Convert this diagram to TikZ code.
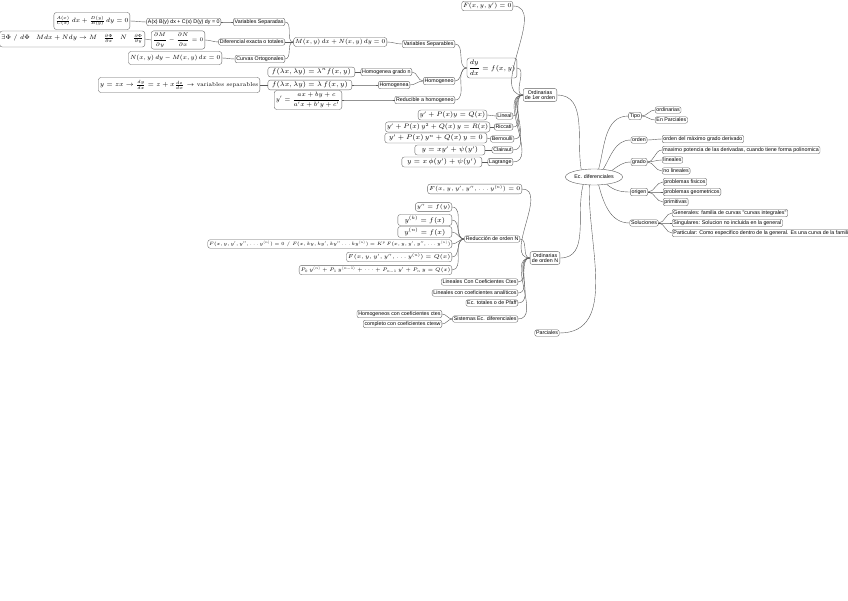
\RequirePackage{fix-cm}
\documentclass[tikz,border=0pt]{standalone}
\usepackage{fontspec}
\usepackage{amsmath}
\usetikzlibrary{shapes.geometric}
\newfontfamily\labfont{Liberation Sans}
\newcommand{\fsz}[1]{\fontsize{#1}{#1}\selectfont}
\tikzset{
  lab/.style={draw=gray!75!black, rounded corners=2pt, fill=white, inner sep=1.3pt, line width=0.35pt,
              font=\labfont\fsz{5.3}, text=black},
  fm/.style={draw=gray!75!black, rounded corners=2.5pt, fill=white, inner sep=1.5pt, line width=0.35pt,
             font=\fsz{6.7}, text=black},
  conn/.style={draw=gray!70!black, line width=0.4pt},
}
\newcommand{\lk}[2]{\draw[conn] (#1.east) to[out=0,in=180] (#2.west);}
\begin{document}
\begin{tikzpicture}[x=1pt,y=-1pt]
\useasboundingbox (0,0) rectangle (848,600);
% root
\node[draw=gray!75!black, ellipse, fill=white, inner sep=0.5pt, minimum width=46pt, minimum height=16pt,
      font=\labfont\fsz{5.3}] (root) at (594,177) {Ec. diferenciales};
% right side
\node[lab] (tipo) at (635,116) {Tipo};
\node[lab, anchor=west] (ordin) at (655,110) {ordinarias};
\node[lab, anchor=west] (enpar) at (655,120) {En Parciales};
\node[lab] (orden) at (639,140) {orden};
\node[lab, anchor=west] (odmgd) at (662,139) {orden del máximo grado derivado};
\node[lab] (grado) at (639,162) {grado};
\node[lab, anchor=west] (maxpot) at (662,150) {maximo potencia de las derivadas, cuando tiene forma polinomica};
\node[lab, anchor=west] (lin) at (662,160) {lineales};
\node[lab, anchor=west] (nolin) at (662,171) {no lineales};
\node[lab] (origen) at (639,192) {origen};
\node[lab, anchor=west] (pfis) at (663,182) {problemas fisicos};
\node[lab, anchor=west] (pgeo) at (663,192) {problemas geometricos};
\node[lab, anchor=west] (prim) at (663,202) {primitivas};
\node[lab] (sol) at (644,223) {Soluciones};
\node[lab, anchor=west] (gen) at (672,213) {Generales: familia de curvas "curvas integrales"};
\node[lab, anchor=west] (sing) at (672,223) {Singulares: Solucion no incluida en la general};
\node[lab, anchor=west] (part) at (672,233) {Particular: Como especifico dentro de la general. Es una curva de la familia};
% left main
\node[lab, align=center, inner sep=1.8pt] (o1) at (540,95) {Ordinarias\\de 1er orden};
\node[lab, align=center, inner sep=1.8pt] (oN) at (545,258) {Ordinarias\\de orden N};
\node[lab] (par) at (547,333) {Parciales};
% 1er orden children
\node[fm, anchor=east, font=\fsz{6.2}] (Fxy) at (513,6) {$F(x,y,y')=0$};
\node[fm, anchor=east, minimum height=20pt] (dydx) at (517,68) {$\dfrac{dy}{dx}=f(x,y)$};
\node[lab, anchor=east] (lineal) at (513,116) {Lineal};
\node[lab, anchor=east] (ricc) at (513,127) {Riccati};
\node[lab, anchor=east] (bern) at (514,139) {Bernoulli};
\node[lab, anchor=east] (clai) at (513,150) {Clairaut};
\node[lab, anchor=east] (lagr) at (513,162) {Lagrange};
\node[fm, anchor=east, font=\fsz{6.5}] (flin) at (487,115) {$y'+P(x)y=Q(x)$};
\node[fm, anchor=east, font=\fsz{6.4}] (fric) at (490,127) {$y'+P(x)\,y^2+Q(x)\,y=R(x)$};
\node[fm, anchor=east, minimum width=102pt] (fber) at (487,138) {$y'+P(x)\,y^n+Q(x)\,y=0$};
\node[fm, anchor=east, minimum width=70pt] (fcla) at (485,150) {$y=xy'+\psi(y')$};
\node[fm, anchor=east, minimum width=80pt] (flag) at (482,162) {$y=x\,\phi(y')+\psi(y')$};
% dy/dx children
\node[lab, anchor=east] (vsep) at (455,44) {Variables Separables};
\node[lab, anchor=east] (homo) at (455,81) {Homogeneo};
\node[lab, anchor=east] (redh) at (455,100) {Reducible a homogeneo};
\node[fm, anchor=east, font=\fsz{6.0}] (MN) at (387,42) {$M(x,y)\,dx+N(x,y)\,dy=0$};
\node[lab, anchor=east] (vsda) at (285,22) {Variables Separadas};
\node[lab, anchor=east] (dext) at (285,42) {Diferencial exacta o totales};
\node[lab, anchor=east] (corto) at (285,59) {Curvas Ortogonales};
\node[lab, anchor=east] (ABCD) at (221,22) {A(x) B(y) dx + C(x) D(y) dy = 0};
\node[fm, anchor=east, font=\fsz{6.2}, minimum height=17pt] (fsep) at (130,21) {$\tfrac{A(x)}{C(x)}\,dx+\tfrac{D(y)}{B(y)}\,dy=0$};
\node[fm, anchor=east, font=\fsz{5.4}, minimum height=18pt] (fexa) at (205,40) {$\dfrac{\partial M}{\partial y}-\dfrac{\partial N}{\partial x}=0$};
\node[fm, anchor=east, font=\fsz{6.3}, minimum height=16pt] (fphi) at (145,39) {$\exists\Phi\ /\ d\Phi\quad Mdx+Ndy\to M\quad \tfrac{\partial\Phi}{\partial x}\quad N\quad \tfrac{\partial\Phi}{\partial y}$};
\node[fm, anchor=east, font=\fsz{6.0}, minimum height=13pt] (fort) at (222,58) {$N(x,y)\,dy-M(x,y)\,dx=0$};
\node[lab, anchor=east] (hgn) at (412,72) {Homogenea grado n};
\node[lab, anchor=east] (hg) at (410,85) {Homogenea};
\node[fm, anchor=east, minimum width=87pt] (fhn) at (355,72) {$f(\lambda x,\lambda y)=\lambda^n f(x,y)$};
\node[fm, anchor=east, minimum width=84pt] (fh) at (352,85) {$f(\lambda x,\lambda y)=\lambda\, f(x,y)$};
\node[fm, anchor=east, font=\fsz{6.5}, minimum height=15pt] (fzx) at (260,85) {$y=zx\to\tfrac{dy}{dx}=z+x\tfrac{dz}{dx}$ {\fsz{5.8}$\to$ variables separables}};
\node[fm, anchor=east, font=\fsz{6.2}] (fred) at (342,100) {$y'=\dfrac{ax+by+c}{a'x+b'y+c'}$};
% orden N children
\node[fm, anchor=east, font=\fsz{5.7}] (FN) at (522,189) {$F(x,y,y',y'',\dots y^{(n)})=0$};
\node[lab, anchor=east] (redN) at (520,239) {Reducción de orden N};
\node[lab, anchor=east] (lcc) at (518,282) {Lineales Con Coeficientes Ctes};
\node[lab, anchor=east] (lca) at (518,293) {Lineales con coeficientes analíticos};
\node[lab, anchor=east] (pfaff) at (518,303) {Ec. totales o de Pfaff};
\node[lab, anchor=east] (sist) at (518,319) {Sistemas Ec. diferenciales};
\node[fm, anchor=east, font=\fsz{5.6}] (r1) at (452,207) {$y''=f(y)$};
\node[fm, anchor=east, minimum width=54pt] (r2) at (452,220) {$y^{(k)}=f(x)$};
\node[fm, anchor=east, minimum width=54pt] (r3) at (452,232) {$y^{(n)}=f(x)$};
\node[fm, anchor=east, font=\fsz{4.7}] (r4) at (452,244) {$F(x,y,y',y'',\dots y^{(n)})=0\ /\ F(x,ky,ky',ky''\dots ky^{(n)})=K^p\,F(x,y,y',y'',\dots y^{(n)})$};
\node[fm, anchor=east, font=\fsz{5.6}] (r5) at (452,257) {$F(x,y,y',y'',\dots y^{(n)})=Q(x)$};
\node[fm, anchor=east, font=\fsz{5.1}] (r6) at (452,270) {$P_0\,y^{(n)}+P_1\,y^{(n-1)}+\dots+P_{n-1}\,y'+P_n\,y=Q(x)$};
\node[lab, anchor=east] (shom) at (442,314) {Homogeneos con coeficientes ctes};
\node[lab, anchor=east] (scom) at (442,324) {completo con coeficientes ctesw};
% connectors from root
\draw[conn] (root.150) to[out=100,in=0] (o1.east);
\draw[conn] (root.215) to[out=255,in=0] (oN.east);
\draw[conn] (root.240) to[out=268,in=0] (par.east);
\draw[conn] (root.60) to[out=75,in=180] (tipo.west);
\draw[conn] (root.40) to[out=60,in=180] (orden.west);
\draw[conn] (root.20) to[out=35,in=180] (grado.west);
\draw[conn] (root.-30) to[out=-40,in=180] (origen.west);
\draw[conn] (root.-60) to[out=-75,in=180] (sol.west);
% right side
\lk{tipo}{ordin} \lk{tipo}{enpar}
\lk{orden}{odmgd}
\lk{grado}{maxpot} \lk{grado}{lin} \lk{grado}{nolin}
\lk{origen}{pfis} \lk{origen}{pgeo} \lk{origen}{prim}
\lk{sol}{gen} \lk{sol}{sing} \lk{sol}{part}
% left side
\lk{Fxy}{o1} \lk{dydx}{o1} \lk{lineal}{o1} \lk{ricc}{o1} \lk{bern}{o1} \lk{clai}{o1} \lk{lagr}{o1}
\lk{flin}{lineal} \lk{fric}{ricc} \lk{fber}{bern} \lk{fcla}{clai} \lk{flag}{lagr}
\lk{vsep}{dydx} \lk{homo}{dydx} \lk{redh}{dydx}
\lk{MN}{vsep}
\lk{vsda}{MN} \lk{dext}{MN} \lk{corto}{MN}
\lk{ABCD}{vsda} \lk{fsep}{ABCD}
\lk{fexa}{dext} \lk{fphi}{fexa}
\lk{fort}{corto}
\lk{hgn}{homo} \lk{hg}{homo}
\lk{fhn}{hgn} \lk{fh}{hg} \lk{fzx}{fh}
\lk{fred}{redh}
\lk{FN}{oN} \lk{redN}{oN} \lk{lcc}{oN} \lk{lca}{oN} \lk{pfaff}{oN} \lk{sist}{oN}
\lk{r1}{redN} \lk{r2}{redN} \lk{r3}{redN} \lk{r4}{redN} \lk{r5}{redN} \lk{r6}{redN}
\lk{shom}{sist} \lk{scom}{sist}
\end{tikzpicture}
\end{document}
